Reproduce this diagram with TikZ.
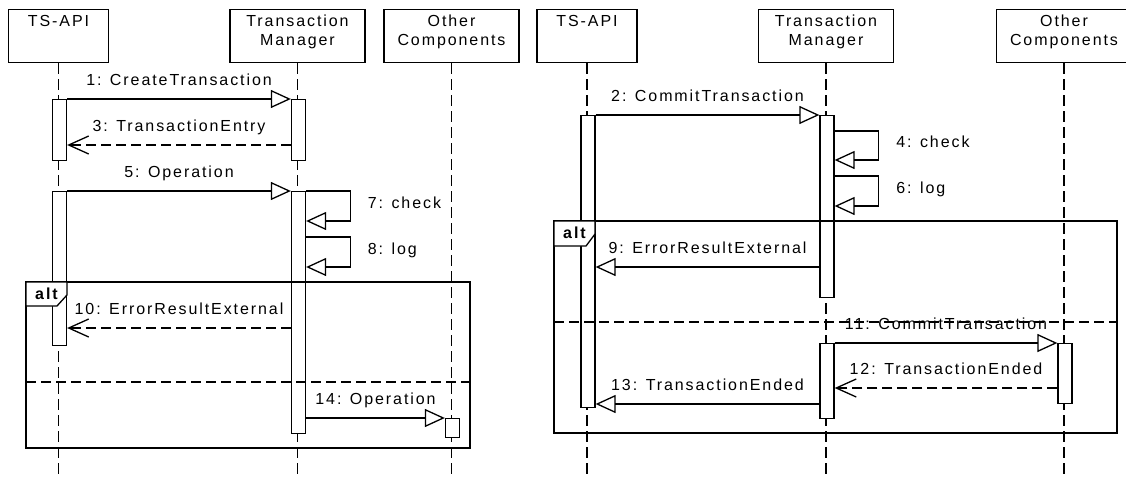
\documentclass[tikz,border=0pt]{standalone}
\usepackage{fontspec}
\setmainfont{Liberation Sans}[LetterSpace=12]
\usetikzlibrary{arrows.meta,positioning}

\begin{document}
\begin{tikzpicture}[x=1pt,y=-1pt,
  every node/.style={font=\fontsize{16}{19}\selectfont},
  obj/.style={draw,line width=1.3pt,minimum height=53pt,anchor=north,inner sep=0pt},
  api/.style={obj,minimum width=100pt},
  comp/.style={obj,minimum width=135pt},
  headtext/.style={inner sep=0pt,align=center},
  life/.style={line width=1.3pt,dash pattern=on 11pt off 5pt},
  act/.style={draw,fill=white,line width=1.3pt,minimum width=14pt,anchor=north,inner sep=0pt},
  call/.style={line width=1.3pt,-{Triangle[open,length=20pt,width=18pt]}},
  reply/.style={line width=1.3pt,dash pattern=on 10pt off 5pt,-{Straight Barb[length=20pt,width=18pt]}},
  msg/.style={above=9.5pt,inner sep=0pt,text depth=3pt},
  selfmsg/.style={anchor=base west,xshift=17pt,yshift=-2pt,inner sep=0pt},
  fragment/.style={draw,line width=1.3pt,anchor=north west,inner sep=0pt,outer sep=0pt},
  tab/.style={draw,fill=white,line width=1.3pt},
  operand/.style={line width=1.3pt,dash pattern=on 10pt off 5pt},
  altlabel/.style={anchor=base west,inner sep=0pt,font=\fontsize{16}{19}\selectfont\bfseries}
]
\useasboundingbox (0,0) rectangle (1126,477);

\node[api] (1) at (58.5,9) {};
\node[comp] (2) at (297.5,9) {};
\node[comp] (3) at (451.5,9) {};
\node[api] (4) at (587,9) {};
\node[comp] (5) at (826,9) {};
\node[comp] (6) at (1064,9) {};

\node[headtext,below=6pt of 1.north] (l1) {TS-API};
\node[headtext,below=6pt of 2.north] (l2) {Transaction\\Manager};
\node[headtext,below=6pt of 3.north] (l3) {Other\\Components};
\node[headtext,below=6pt of 4.north] (l4) {TS-API};
\node[headtext,below=6pt of 5.north] (l5) {Transaction\\Manager};
\node[headtext,below=6pt of 6.north] (l6) {Other\\Components};

\foreach \n in {1,...,6}
  \draw[life] (\n.south) -- (\n.south |- 0,480);

\node[act,minimum height=61pt] (a1) at (59.5,99) {};
\node[act,minimum height=61pt] (a2) at (298.5,99) {};
\node[act,minimum height=154pt] (a3) at (59.5,191) {};
\node[act,minimum height=242pt] (a4) at (298.5,191) {};
\node[act,minimum height=19pt] (a5) at (452.5,418) {};
\node[act,minimum height=292pt] (a6) at (588,115) {};
\node[act,minimum height=182pt] (a7) at (827,115) {};
\node[act,minimum height=75pt] (a8) at (827,343) {};
\node[act,minimum height=60pt] (a9) at (1065,343) {};

\draw[call] (a1.north east) to node[msg] {1: CreateTransaction} (a2.north west);
\draw[reply] (a2.west |- 0,145) to node[msg] {3: TransactionEntry} (a1.east |- 0,145);
\draw[call] (a3.north east) to node[msg] {5: Operation} (a4.north west);
\draw[call] (a4.north east) -- ++(44,0) |- node[pos=0.25,selfmsg] {7: check} (a4.east |- 0,221);
\draw[call] (a4.east |- 0,237) -- ++(44,0) |- node[pos=0.25,selfmsg] {8: log} (a4.east |- 0,267);
\draw[reply] (a4.west |- 0,328) to node[msg] {10: ErrorResultExternal} (a3.east |- 0,328);
\draw[call] (a4.east |- 0,418) to node[msg] {14: Operation} (a5.north west);

\draw[call] (a6.north east) to node[msg] {2: CommitTransaction} (a7.north west);
\draw[call] (a7.east |- 0,131) -- ++(44,0) |- node[pos=0.25,selfmsg] {4: check} (a7.east |- 0,160);
\draw[call] (a7.east |- 0,176) -- ++(44,0) |- node[pos=0.25,selfmsg] {6: log} (a7.east |- 0,206);
\draw[call] (a7.west |- 0,267) to node[msg] {9: ErrorResultExternal} (a6.east |- 0,267);
\draw[call] (a8.north east) to node[msg] {11: CommitTransaction} (a9.north west);
\draw[reply] (a9.west |- 0,388) to node[msg] {12: TransactionEnded} (a8.east |- 0,388);
\draw[call] (a8.west |- 0,404) to node[msg] {13: TransactionEnded} (a6.east |- 0,404);

\node[fragment,minimum width=444pt,minimum height=166pt] (f1) at (26,282) {};
\draw[tab] (f1.north west) -- ++(41,0) -- ++(0,13) -- ++(-10,11) -- ++(-31,0) -- cycle;
\node[altlabel] (o1) at ([xshift=9pt,yshift=-17.5pt]f1.north west) {alt};
\draw[operand] (f1.west |- 0,382) -- (f1.east |- 0,382);

\node[fragment,minimum width=563pt,minimum height=212pt] (f2) at (554,221) {};
\draw[tab] (f2.north west) -- ++(41,0) -- ++(0,13) -- ++(-9,12) -- ++(-32,0) -- cycle;
\node[altlabel] (o2) at ([xshift=9pt,yshift=-17.5pt]f2.north west) {alt};
\draw[operand] (f2.west |- 0,322) -- (f2.east |- 0,322);
\end{tikzpicture}
\end{document}
